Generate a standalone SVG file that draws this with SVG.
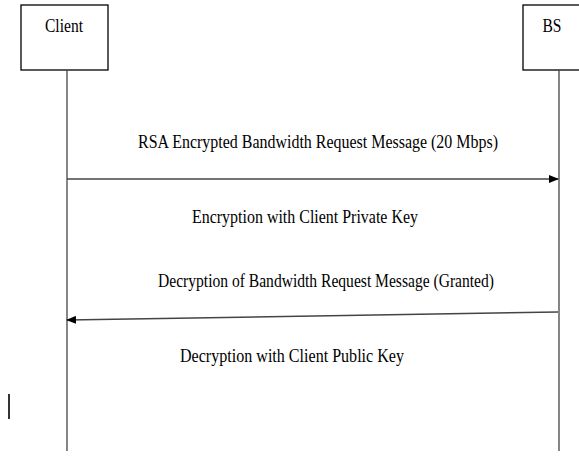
<svg xmlns="http://www.w3.org/2000/svg" width="579" height="456" viewBox="0 0 579 456">
<style>
.box{fill:#fff;stroke:#000;stroke-width:1.3}
.life{stroke:#444;stroke-width:1.3;fill:none}
.msg{stroke:#444;stroke-width:1.5;fill:none}
.t{font-family:'Liberation Serif','Times New Roman',Times,serif;font-size:18.5px;fill:#000}
</style>
<defs>
<marker id="ah" markerWidth="10" markerHeight="8" refX="9" refY="4" orient="auto" markerUnits="userSpaceOnUse">
<path d="M0,0 L10,4 L0,8 Z" fill="#000"/>
</marker>
</defs>
<rect width="579" height="456" fill="#fff"/>
<g id="client">
<rect class="box" x="21" y="5" width="87" height="65"/>
<text class="t" x="64" y="32" text-anchor="middle" textLength="38" lengthAdjust="spacingAndGlyphs" font-family="Liberation Serif, serif">Client</text>
<line class="life" x1="67" y1="70" x2="67" y2="451"/>
</g>
<g id="bs">
<rect class="box" x="523" y="5" width="70" height="65"/>
<text class="t" x="552" y="32" text-anchor="middle" textLength="19" lengthAdjust="spacingAndGlyphs">BS</text>
<line class="life" x1="559" y1="70" x2="559" y2="451"/>
</g>
<g id="connectors">
<line class="msg" x1="67" y1="179" x2="558" y2="179" marker-end="url(#ah)"/>
<line class="msg" x1="558" y1="312" x2="67" y2="320" marker-end="url(#ah)"/>
</g>
<g id="labels">
<text class="t" x="138" y="148" textLength="360" lengthAdjust="spacingAndGlyphs">RSA Encrypted Bandwidth Request Message (20 Mbps)</text>
<text class="t" x="192" y="223" textLength="226" lengthAdjust="spacingAndGlyphs">Encryption with Client Private Key</text>
<text class="t" x="158" y="287" textLength="336" lengthAdjust="spacingAndGlyphs">Decryption of Bandwidth Request Message (Granted)</text>
<text class="t" x="180" y="362" textLength="224" lengthAdjust="spacingAndGlyphs">Decryption with Client Public Key</text>
</g>
<line x1="9" y1="394" x2="9" y2="419" stroke="#000" stroke-width="1.6"/>
</svg>
